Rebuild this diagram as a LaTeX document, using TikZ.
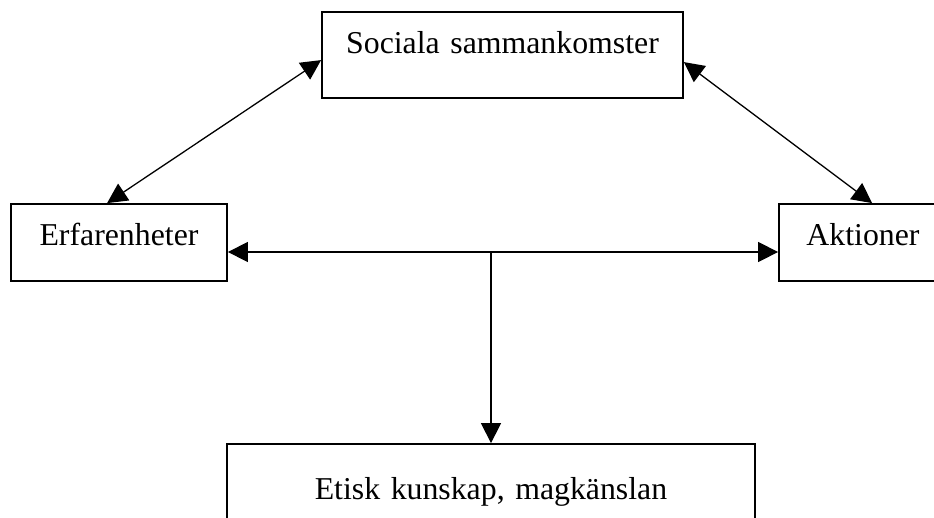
\documentclass[tikz,border=0pt]{standalone}
\usepackage{fontspec}
\setmainfont{Liberation Serif}
\usetikzlibrary{arrows.meta}
\begin{document}
\begin{tikzpicture}[x=1pt,y=-1pt,
  box/.style={draw=black, line width=1.8pt, inner sep=0pt, align=center,
    font=\fontsize{31.8}{38}\selectfont},
  link/.style={line width=1.3pt, draw=black},
  tipboth/.style={link, {Triangle[length=20pt,width=20pt]}-{Triangle[length=20pt,width=20pt]}},
  tipend/.style={link, -{Triangle[length=20pt,width=20pt]}}]
\path[use as bounding box] (0,0) rectangle (934,517);
\clip (0,0) rectangle (934,517);
\fill[white] (0,0) rectangle (934,517);
% boxes
\node[box, text width=361pt, text height=41pt, text depth=45pt] (soc) at (502.5,55) {Sociala sammankomster};
\node[box, text width=216pt, text height=41pt, text depth=36pt] (erf) at (119,242.5) {Erfarenheter};
\node[box, text width=168pt, text height=41pt, text depth=36pt] (akt) at (863,242.5) {Aktioner};
\node[box, text width=528pt, text height=55pt, text depth=61pt] (etik) at (491,502) {Etisk kunskap, magkänslan};
% connectors
\draw[tipboth] ([yshift=-49pt]soc.north west) -- ([xshift=97pt]erf.north west);
\draw[tipboth] ([yshift=-51pt]soc.north east) -- ([xshift=94pt]akt.north west);
\coordinate (hl) at ([yshift=-9.5pt]erf.east);
\draw[tipboth] (hl) -- (akt.west |- hl);
\draw[tipend] (etik.north |- hl) -- (etik.north);
\end{tikzpicture}
\end{document}
